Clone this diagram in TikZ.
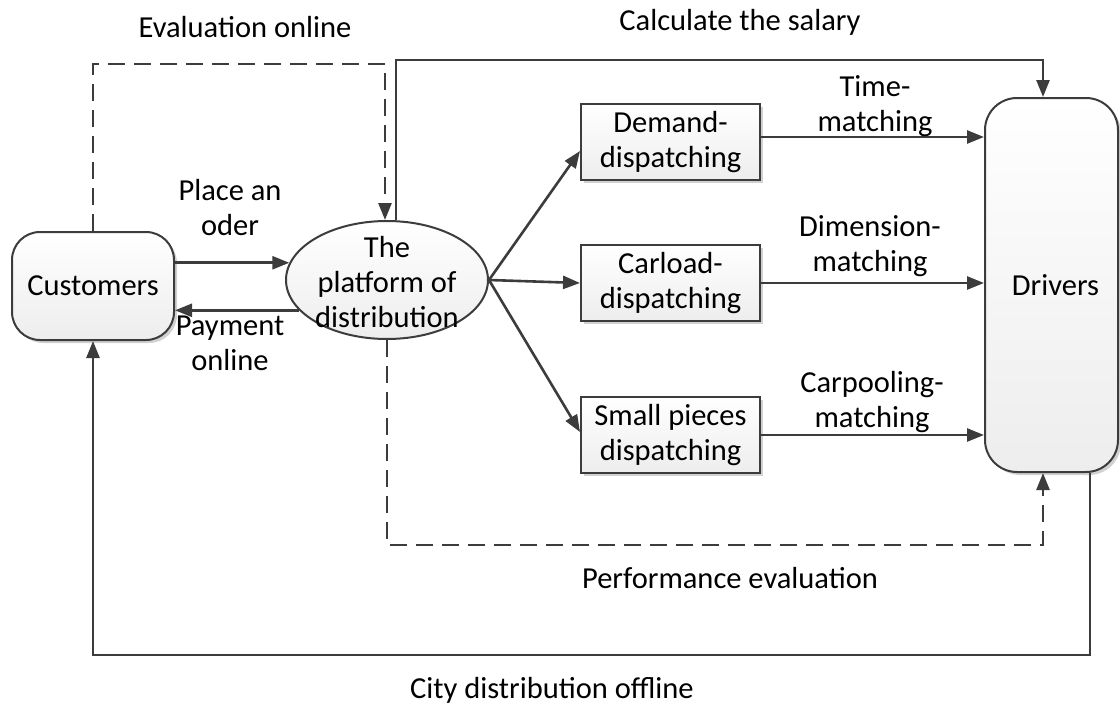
\documentclass[tikz,border=0pt]{standalone}
\usepackage{fontspec}
\setmainfont{Carlito}
\usetikzlibrary{arrows.meta,shapes.geometric,shadows}
\definecolor{ln}{HTML}{3C3C3C}
\begin{document}
\begin{tikzpicture}[x=1pt,y=-1pt,
  font=\fontsize{30.5}{35}\selectfont,
  line width=2.6pt,
  arr/.style={draw=ln,-{Triangle[length=17pt,width=13pt]}},
  darr/.style={arr,dash pattern=on 17pt off 9pt},
  shd/.style={drop shadow={shadow xshift=3pt,shadow yshift=-3pt,fill=black,opacity=0.18}},
  rbox/.style={rectangle,rounded corners=28pt,draw=ln,line width=2pt,top color=white,bottom color=gray!14,shd,align=center,inner sep=0pt},
  sbox/.style={rectangle,draw=ln,line width=2pt,top color=white,bottom color=gray!14,shd,align=center,inner sep=0pt,minimum width=179pt,minimum height=76pt},
  ell/.style={ellipse,draw=ln,line width=2pt,top color=white,bottom color=gray!14,inner sep=0pt,minimum width=202pt,minimum height=118pt},
  lbl/.style={align=center,inner sep=0pt}]
\useasboundingbox (0,0) rectangle (1120,704);

\node[rbox,minimum width=162pt,minimum height=108pt] (cust) at (93,286) {Customers};
\node[ell] (plat) at (387,280) {};
\node[lbl] (plattxt) at (387,282) {The\\platform of\\distribution};
\node[sbox] (dem) at (670.5,142) {Demand-\\dispatching};
\node[sbox] (car) at (670.5,283) {Carload-\\dispatching};
\node[sbox] (sp) at (670.5,435) {Small pieces\\dispatching};
\node[rbox,rounded corners=32pt,minimum width=133pt,minimum height=374pt] (drv) at (1051.5,285) {\hspace*{8pt}Drivers};

% customers <-> platform
\draw[arr] (cust.east |- plat.170) -- (plat.170);
\draw[arr] (plat.199) -- (cust.east |- plat.199);
\node[lbl] (lplace) at (230,208) {Place an\\oder};
\node[lbl] (lpay) at (230,343) {Payment\\online};

% platform -> dispatching
\draw[arr] (plat.east) -- ([yshift=-9pt]dem.west);
\draw[arr] (plat.east) -- (car.west);
\draw[arr] (plat.east) -- ([yshift=3pt]sp.west);

% dispatching -> drivers
\coordinate (demout) at ([yshift=5pt]dem.east);
\draw[arr] (demout) -- (drv.west |- demout);
\draw[arr] (car.east) -- (drv.west |- car.east);
\draw[arr] (sp.east) -- (drv.west |- sp.east);
\node[lbl] (ltime) at (875,106) {Time-\\matching};
\node[lbl] (ldim) at (870,246) {Dimension-\\matching};
\node[lbl] (lcar) at (872,402) {Carpooling-\\matching};

% evaluation online (dashed)
\coordinate (evtop) at (385,64);
\draw[darr] (cust.north) |- (evtop) -- (evtop |- plat.north);
\node[lbl] (levo) at (245,27) {Evaluation online};

% calculate the salary
\coordinate (salL) at (396,60);
\coordinate (salR) at (1043,60);
\draw[arr] (salL |- plat.84) -- (salL) -- (salR) -- (salR |- drv.north);
\node[lbl] (lsal) at (740,22) {Calculate the salary};

% performance evaluation (dashed)
\coordinate (perR) at (1043,545);
\draw[darr] (plat.south) -- (plat.south |- perR) -- (perR) -- (perR |- drv.south);
\node[lbl] (lperf) at (730,578) {Performance evaluation};

% city distribution offline
\coordinate (cityR) at (1090,655);
\draw[arr] (cityR |- drv.south) -- (cityR) -- (cityR -| cust.south) -- (cust.south);
\node[lbl] (lcity) at (552,690) {City distribution offline};
\end{tikzpicture}
\end{document}
